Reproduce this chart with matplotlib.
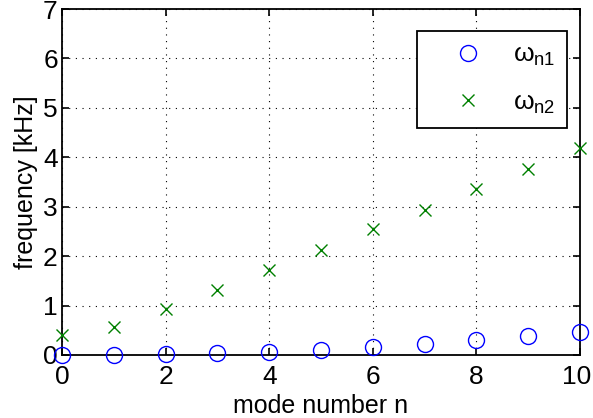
import matplotlib
matplotlib.use("Agg")
import matplotlib.pyplot as plt
import matplotlib.transforms as mtransforms

plt.rcParams['font.family'] = ['Liberation Sans', 'DejaVu Sans']
plt.rcParams['mathtext.fontset'] = 'custom'
plt.rcParams['mathtext.rm'] = 'Liberation Sans'
plt.rcParams['mathtext.it'] = 'Liberation Sans'

n = list(range(11))
omega_n1 = [0.0, 0.005, 0.02, 0.04, 0.07, 0.11, 0.16, 0.23, 0.30, 0.38, 0.47]
omega_n2 = [0.41, 0.57, 0.93, 1.31, 1.72, 2.12, 2.54, 2.94, 3.35, 3.77, 4.18]
labels = [r'$\omega_{\mathregular{n1}}$', r'$\omega_{\mathregular{n2}}$']

fig = plt.figure(figsize=(5.93, 4.18), dpi=100)
ax = fig.add_axes([62/593, 1-355/418, 518/593, 346/418])
ax.plot(n, omega_n1, linestyle='none', marker='o', markersize=11.5, mfc='none',
        mec=(0, 0, 1), mew=1.0, label=labels[0], clip_on=False, zorder=3)
ax.plot(n, omega_n2, linestyle='none', marker='x', markersize=8,
        mec=(0, 0.5, 0), mew=1.0, label=labels[1], clip_on=False, zorder=3)

ax.set_xlim(0, 10)
ax.set_ylim(0, 7)
ax.set_xticks(range(0, 11, 2))
ax.set_yticks(range(0, 8))
ax.tick_params(direction='in', top=True, right=True, labelsize=19, length=5,
               width=1.2, pad=3)
ax.tick_params(axis='x', pad=7)
for s in ax.spines.values():
    s.set_linewidth(1.3)
ax.grid(True, color='black', linestyle=(0, (1, 5)), linewidth=0.8)
ax.set_xlabel('mode number n', fontsize=18, labelpad=4)
ax.set_ylabel('frequency [kHz]', fontsize=18, labelpad=4)

# keep the last x tick label inside the canvas
last = ax.get_xticklabels()[-1]
last.set_transform(last.get_transform() +
                   mtransforms.ScaledTranslation(-3/100, 0, fig.dpi_scale_trans))

leg = ax.legend(loc='upper right', bbox_to_anchor=(567/593, 1-31/418),
                bbox_transform=fig.transFigure, borderaxespad=0,
                fontsize=19, frameon=True, fancybox=False, edgecolor='black',
                framealpha=1, labelspacing=0.85, handlelength=3.0, handletextpad=0.2,
                borderpad=0.45)
leg.get_frame().set_linewidth(1.3)

fig.savefig('out.png', dpi=100)
